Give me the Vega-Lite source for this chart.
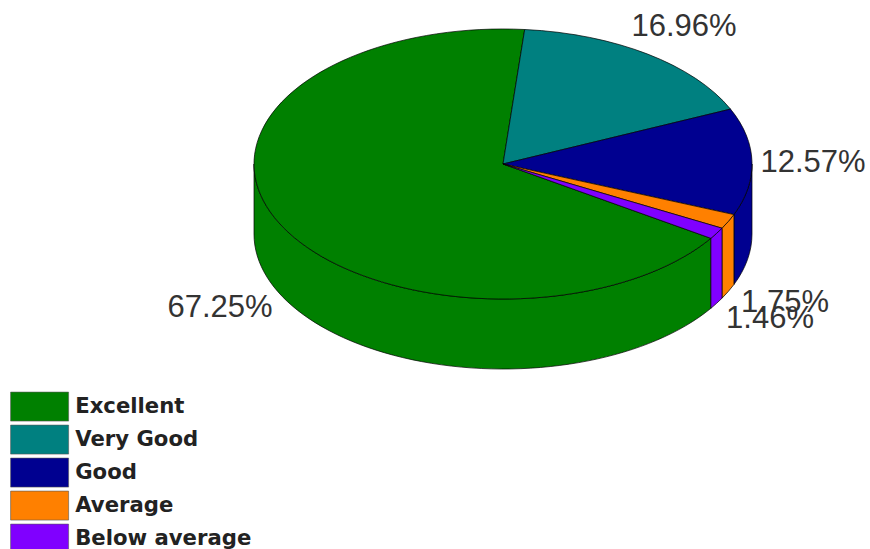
{
  "$schema": "https://vega.github.io/schema/vega-lite/v6.json",
  "width": 870,
  "height": 549,
  "padding": 0,
  "autosize": "none",
  "background": "#ffffff",
  "view": {"stroke": null},
  "data": {"values": [
    {"category": "Excellent", "share": 0.6725},
    {"category": "Very Good", "share": 0.1696},
    {"category": "Good", "share": 0.1257},
    {"category": "Average", "share": 0.0175},
    {"category": "Below average", "share": 0.0146}
  ]},
  "resolve": {"scale": {"shape": "independent"}, "legend": {"shape": "independent"}},
  "layer": [
    {
      "transform": [{"filter": "datum.category !== 'Very Good'"}],
      "mark": {"type": "point", "filled": true, "opacity": 1, "stroke": "#000000", "strokeWidth": 0.7, "size": 4},
      "encoding": {
        "color": {"field": "category", "type": "nominal", "scale": {"domain": ["Excellent", "Very Good", "Good", "Average", "Below average"], "range": ["#008000", "#008080", "#000090", "#ff8000", "#8000ff"]},
          "legend": {
            "title": null,
            "orient": "none",
            "legendX": 29,
            "legendY": 396,
            "symbolType": "M-2.9,-1.45 H2.9 V1.45 H-2.9 Z",
            "symbolSize": 400,
            "symbolStrokeColor": "#555555",
            "symbolStrokeWidth": 0.6,
            "labelOffset": 25,
            "labelFont": "DejaVu Sans",
            "labelFontWeight": "bold",
            "labelFontSize": 21.2,
            "labelColor": "#222222",
            "labelLimit": 300,
            "rowPadding": 0
          }
        },
        "shape": {"field": "category", "type": "nominal", "legend": null, "scale": {
          "domain": ["Excellent", "Good", "Average", "Below average"],
          "range": [
            "M275.9,-36.2 A249,135 0 0 1 -181,-110.5 L-181,-40.5 A249,135 0 0 0 275.9,33.8 Z",
            "M317,-110.5 A249,135 0 0 1 298.9,-59.9 L298.9,10.1 A249,135 0 0 0 317,-40.5 Z",
            "M298.9,-59.9 A249,135 0 0 1 287,-46.3 L287,23.7 A249,135 0 0 0 298.9,10.1 Z",
            "M287,-46.3 A249,135 0 0 1 275.9,-36.2 L275.9,33.8 A249,135 0 0 0 287,23.7 Z"
          ]
        }}
      }
    },
    {
      "mark": {"type": "point", "filled": true, "opacity": 1, "stroke": "#000000", "strokeWidth": 0.7, "size": 4},
      "encoding": {
        "color": {"field": "category", "type": "nominal", "scale": {"domain": ["Excellent", "Very Good", "Good", "Average", "Below average"], "range": ["#008000", "#008080", "#000090", "#ff8000", "#8000ff"]},
          "legend": {
            "title": null,
            "orient": "none",
            "legendX": 29,
            "legendY": 396,
            "symbolType": "M-2.9,-1.45 H2.9 V1.45 H-2.9 Z",
            "symbolSize": 400,
            "symbolStrokeColor": "#555555",
            "symbolStrokeWidth": 0.6,
            "labelOffset": 25,
            "labelFont": "DejaVu Sans",
            "labelFontWeight": "bold",
            "labelFontSize": 21.2,
            "labelColor": "#222222",
            "labelLimit": 300,
            "rowPadding": 0
          }
        },
        "shape": {"field": "category", "type": "nominal", "legend": null, "scale": {
          "domain": ["Excellent", "Very Good", "Good", "Average", "Below average"],
          "range": [
            "M68,-110.5 L275.9,-36.2 A249,135 0 1 1 89.7,-245 Z",
            "M68,-110.5 L89.7,-245 A249,135 0 0 1 295.5,-165.4 Z",
            "M68,-110.5 L295.5,-165.4 A249,135 0 0 1 298.9,-59.9 Z",
            "M68,-110.5 L298.9,-59.9 A249,135 0 0 1 287,-46.3 Z",
            "M68,-110.5 L287,-46.3 A249,135 0 0 1 275.9,-36.2 Z"
          ]
        }}
      }
    },
    {
      "mark": {"type": "text", "font": "Liberation Sans", "fontSize": 31, "baseline": "middle", "align": "center", "color": "#333333"},
      "encoding": {
        "text": {"field": "share", "type": "quantitative", "format": ".2%"},
        "x": {"field": "share", "type": "quantitative", "axis": null, "scale": {"domain": [0.0146, 0.0175, 0.1257, 0.1696, 0.6725], "range": [770, 785, 813, 684, 220], "nice": false, "zero": false}},
        "y": {"field": "share", "type": "quantitative", "axis": null, "scale": {"domain": [0.0146, 0.0175, 0.1257, 0.1696, 0.6725], "range": [319, 303, 163, 27, 308], "nice": false, "zero": false}}
      }
    }
  ]
}
